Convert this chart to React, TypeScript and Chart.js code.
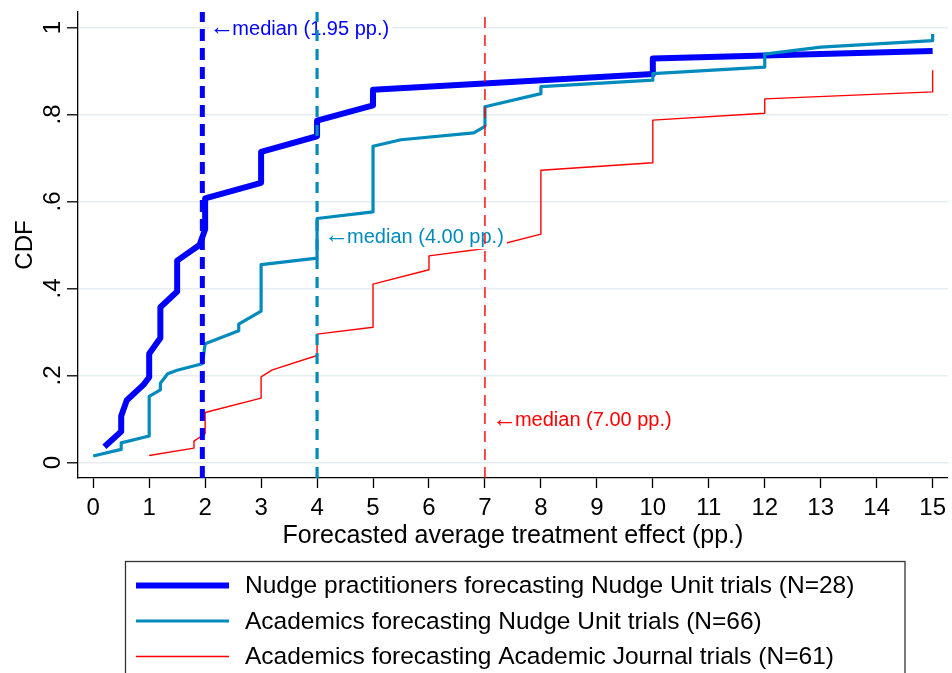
import { useEffect, useRef } from 'react';
import { Chart, registerables } from 'chart.js';

Chart.register(...registerables);

const FONT_FAMILY = '"Liberation Sans", Arial, Helvetica, sans-serif';

// Forecast values (pp.) and cumulative shares, one polyline per forecaster group
const practitionersX = [0.2, 0.5, 0.5, 0.6, 0.9, 1.0, 1.0, 1.2, 1.2, 1.5, 1.5, 1.9, 2.0, 2.0, 3.0, 3.0, 4.0, 4.0, 5.0, 5.0, 10.0, 10.0, 15.0];
const practitionersCdf = [0.036, 0.071, 0.107, 0.143, 0.179, 0.196, 0.25, 0.286, 0.357, 0.393, 0.464, 0.5, 0.536, 0.607, 0.643, 0.714, 0.75, 0.786, 0.821, 0.857, 0.893, 0.929, 0.946];

const academicsNudgeX = [0.0, 0.5, 0.5, 1.0, 1.0, 1.2, 1.2, 1.33, 1.5, 1.95, 2.0, 2.6, 2.6, 3.0, 3.0, 4.0, 4.0, 5.0, 5.0, 5.5, 6.8, 7.0, 7.0, 8.0, 8.0, 10.0, 10.0, 12.0, 12.0, 13.0, 15.0, 15.0];
const academicsNudgeCdf = [0.015, 0.03, 0.045, 0.061, 0.152, 0.167, 0.182, 0.204, 0.212, 0.227, 0.273, 0.303, 0.318, 0.348, 0.455, 0.47, 0.561, 0.576, 0.727, 0.742, 0.758, 0.773, 0.818, 0.848, 0.864, 0.879, 0.894, 0.909, 0.939, 0.955, 0.97, 0.985];

const academicsJournalX = [1.0, 1.8, 1.8, 2.0, 2.0, 3.0, 3.0, 3.2, 4.0, 4.0, 5.0, 5.0, 6.0, 6.0, 7.0, 8.0, 8.0, 10.0, 10.0, 12.0, 12.0, 15.0, 15.0];
const academicsJournalCdf = [0.016, 0.033, 0.049, 0.066, 0.115, 0.148, 0.197, 0.213, 0.246, 0.295, 0.311, 0.41, 0.443, 0.475, 0.492, 0.525, 0.672, 0.689, 0.787, 0.803, 0.836, 0.852, 0.902];

// Medians and their annotation text
const medianValues = [1.95, 4.0, 7.0];
const medianArrow = '\u2190';
const medianTexts = ['median (1.95 pp.)', 'median (4.00 pp.)', 'median (7.00 pp.)'];
const medianTextLevels = [0.996, 0.518, 0.096];

const seriesNames = [
  'Nudge practitioners forecasting Nudge Unit trials (N=28)',
  'Academics forecasting Nudge Unit trials (N=66)',
  'Academics forecasting Academic Journal trials (N=61)',
];

// Axis ticks
const xTickValues = [0, 1, 2, 3, 4, 5, 6, 7, 8, 9, 10, 11, 12, 13, 14, 15];
const yTickValues = [0, 0.2, 0.4, 0.6, 0.8, 1];
const yTickLabels = ['0', '.2', '.4', '.6', '.8', '1'];

const X_MIN = -0.272;
const X_MAX = 15.272;
const Y_MIN = -0.0357;
const Y_MAX = 1.0357;

const COLORS = ['#0000ff', '#008bbc', '#ff0000'];
const LINE_WIDTHS = [6, 3.2, 1.4];
const DASHES = [[12, 7], [11, 8], [11, 7]];

const toPoints = (xs: number[], ys: number[]) => xs.map((x, i) => ({ x, y: ys[i] }));

const decorPlugin = {
  id: 'decor',
  beforeDatasetsDraw(chart: any) {
    chart.$medianTextDone = false;
  },
  beforeDatasetDraw(chart: any, args: any) {
    // annotations sit above the CDF curves but below the dashed median lines
    if (args.index < 3 || chart.$medianTextDone) return;
    chart.$medianTextDone = true;
    const { ctx } = chart;
    const xs = chart.scales.x;
    const ys = chart.scales.y;
    ctx.save();
    ctx.textBaseline = 'middle';
    ctx.textAlign = 'left';
    medianValues.forEach((m, i) => {
      const px = xs.getPixelForValue(m) + 10;
      const py = ys.getPixelForValue(medianTextLevels[i]);
      ctx.font = `25px ${FONT_FAMILY}`;
      const aw = ctx.measureText(medianArrow).width;
      ctx.font = `20px ${FONT_FAMILY}`;
      const tw = ctx.measureText(medianTexts[i]).width;
      const textX = px + 20;
      ctx.fillStyle = '#ffffff';
      ctx.fillRect(px - 3, py - 12, textX - px + tw + 6, 24);
      ctx.fillStyle = COLORS[i];
      ctx.fillText(medianTexts[i], textX, py);
      ctx.font = `25px ${FONT_FAMILY}`;
      ctx.fillText(medianArrow, px + (19 - aw) / 2, py - 1);
    });
    ctx.restore();
  },
  afterDraw(chart: any) {
    const { ctx, chartArea } = chart;
    const ys = chart.scales.y;
    ctx.save();
    ctx.fillStyle = '#000000';
    ctx.font = `24px ${FONT_FAMILY}`;
    ctx.textBaseline = 'alphabetic';
    ctx.textAlign = 'center';

    // rotated y tick labels
    yTickValues.forEach((v, i) => {
      ctx.save();
      ctx.translate(60, ys.getPixelForValue(v));
      ctx.rotate(-Math.PI / 2);
      ctx.fillText(yTickLabels[i], 0, 0);
      ctx.restore();
    });

    // y axis title
    ctx.save();
    ctx.translate(31.5, (chartArea.top + chartArea.bottom) / 2);
    ctx.rotate(-Math.PI / 2);
    ctx.fillText('CDF', 0, 0);
    ctx.restore();

    // x axis title
    ctx.font = `25px ${FONT_FAMILY}`;
    ctx.fillText('Forecasted average treatment effect (pp.)', (chartArea.left + chartArea.right) / 2, 543);

    // legend box
    ctx.strokeStyle = '#333333';
    ctx.lineWidth = 1.3;
    ctx.strokeRect(125.5, 561.5, 779.5, 200);
    ctx.font = `24.5px ${FONT_FAMILY}`;
    ctx.textAlign = 'left';
    ctx.textBaseline = 'middle';
    seriesNames.forEach((name, i) => {
      const y = 585.5 + i * 35.5;
      ctx.beginPath();
      ctx.strokeStyle = COLORS[i];
      ctx.lineWidth = LINE_WIDTHS[i];
      ctx.moveTo(136, y);
      ctx.lineTo(229, y);
      ctx.stroke();
      ctx.fillStyle = '#000000';
      ctx.fillText(name, 245, y + 1);
    });
    ctx.restore();
  },
};

export default function App() {
  const canvasRef = useRef<HTMLCanvasElement | null>(null);

  useEffect(() => {
    const canvas = canvasRef.current;
    if (!canvas) return;

    const series = [
      toPoints(practitionersX, practitionersCdf),
      toPoints(academicsNudgeX, academicsNudgeCdf),
      toPoints(academicsJournalX, academicsJournalCdf),
    ];

    const curveSets = series.map((data, i) => ({
      label: seriesNames[i],
      data,
      borderColor: COLORS[i],
      backgroundColor: COLORS[i],
      borderWidth: LINE_WIDTHS[i],
      pointRadius: 0,
      tension: 0,
      fill: false,
      borderJoinStyle: 'round' as const,
      order: 6 - i,
    }));

    const medianSets = medianValues.map((m, i) => ({
      label: `median ${i}`,
      data: [{ x: m, y: Y_MIN }, { x: m, y: Y_MAX }],
      borderColor: COLORS[i],
      backgroundColor: COLORS[i],
      borderWidth: i === 0 ? 5 : LINE_WIDTHS[i],
      borderDash: DASHES[i],
      pointRadius: 0,
      fill: false,
      order: 3 - i,
    }));

    const chart = new Chart(canvas, {
      type: 'line',
      data: { datasets: [...curveSets, ...medianSets] },
      options: {
        animation: false,
        responsive: false,
        devicePixelRatio: 1,
        layout: { padding: { left: 0, right: 1, top: 12, bottom: 0 } },
        plugins: {
          legend: { display: false },
          tooltip: { enabled: false },
          title: { display: false },
        },
        scales: {
          x: {
            type: 'linear',
            min: X_MIN,
            max: X_MAX,
            afterBuildTicks: (scale: any) => {
              scale.ticks = xTickValues.map((v) => ({ value: v }));
            },
            afterFit: (scale: any) => {
              scale.height = 195;
            },
            ticks: {
              autoSkip: false,
              maxRotation: 0,
              minRotation: 0,
              padding: 6,
              color: '#000000',
              font: { family: FONT_FAMILY, size: 24 },
              callback: (v: any) => String(v),
            },
            grid: {
              drawOnChartArea: false,
              drawTicks: true,
              tickLength: 10,
              tickColor: '#000000',
              tickWidth: 1.3,
            },
            border: { display: true, color: '#000000', width: 1.3 },
          },
          y: {
            type: 'linear',
            min: Y_MIN,
            max: Y_MAX,
            afterBuildTicks: (scale: any) => {
              scale.ticks = yTickValues.map((v) => ({ value: v }));
            },
            afterFit: (scale: any) => {
              scale.width = 78;
            },
            ticks: { display: false },
            grid: {
              color: '#e6edf1',
              lineWidth: 1.6,
              drawTicks: true,
              tickLength: 11,
              tickColor: '#000000',
              tickWidth: 1.3,
            },
            border: { display: true, color: '#000000', width: 1.3 },
          },
        },
      },
      plugins: [decorPlugin],
    });

    return () => chart.destroy();
  }, []);

  return (
    <div style={{ position: 'absolute', left: 0, top: 0, width: 952, height: 673, background: '#ffffff' }}>
      <canvas ref={canvasRef} width={952} height={673} style={{ display: 'block' }} />
    </div>
  );
}
